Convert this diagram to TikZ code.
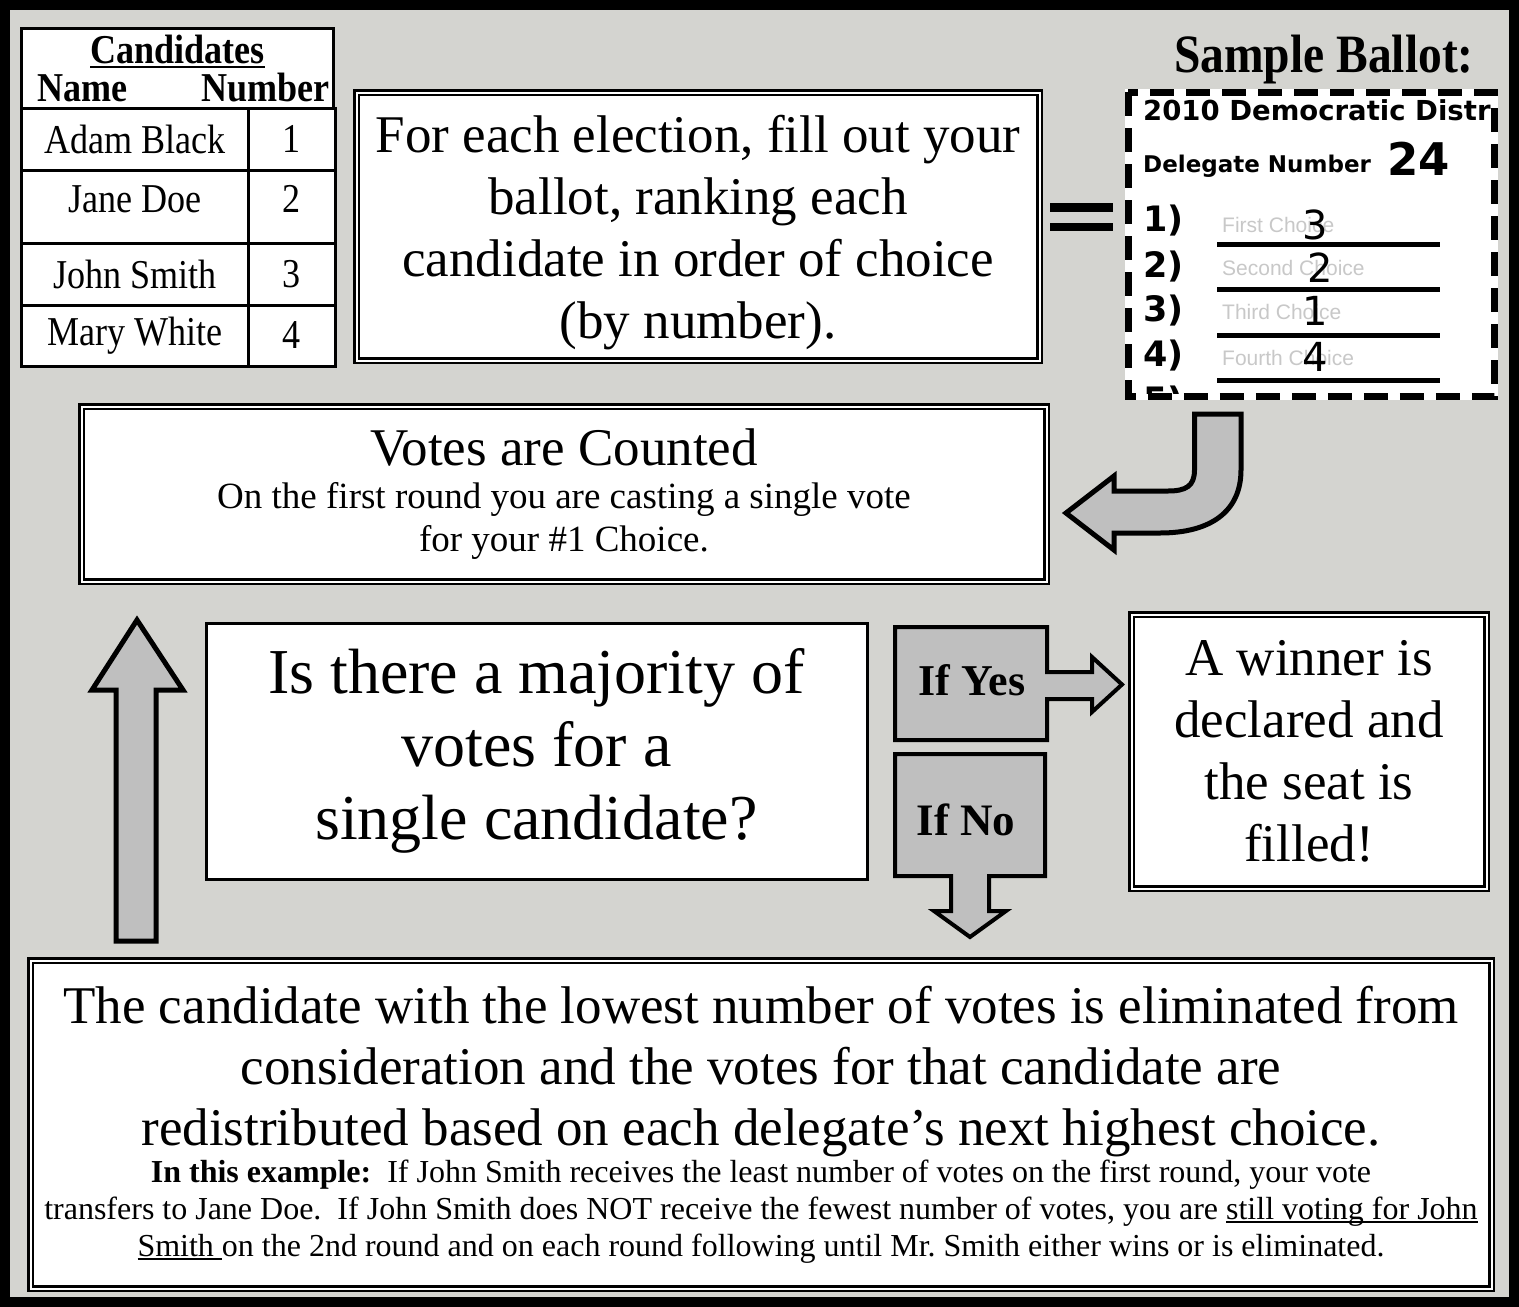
\documentclass[tikz,border=0pt]{standalone}
\usepackage{fontspec}
\setmainfont{Liberation Serif}
\newfontfamily\narrowserif{Liberation Serif}[FakeStretch=0.88]
\newfontfamily\formsans{DejaVu Sans}
\newfontfamily\choicesans{Liberation Sans}
\definecolor{panel}{RGB}{212,212,208}
\definecolor{arrowgray}{RGB}{191,191,191}
\definecolor{faint}{RGB}{200,200,200}
\newsavebox\ulbox
\newcommand{\heavyul}[1]{\leavevmode\sbox\ulbox{#1}\rlap{\rule[-0.12em]{\wd\ulbox}{0.055em}}\usebox\ulbox}

\begin{document}
\begin{tikzpicture}[x=1pt, y=-1pt,
    cell/.style={rectangle, draw, fill=white, line width=3pt, inner sep=0pt, font=\narrowserif\fontsize{41}{41}\selectfont},
    dbox/.style={rectangle, draw, fill=white, line width=2.5pt, double=white, double distance=2pt, inner sep=2pt, align=flush center},
    blockarrow/.style={draw, fill=arrowgray, line width=5pt, line join=miter},
    ballotnum/.style={anchor=base west, inner sep=0pt, font=\formsans\bfseries\fontsize{35}{35}\selectfont},
    choice/.style={anchor=base west, inner sep=0pt, text=faint, font=\choicesans\fontsize{21}{21}\selectfont},
    hand/.style={inner sep=0pt, font=\formsans\fontsize{40}{40}\selectfont},
    formline/.style={line width=5pt}]

    % Frame
    \useasboundingbox (0,0) rectangle (1519,1307);
    \fill[panel] (0,0) rectangle (1519,1307);
    \draw[line width=10pt] (5,5) rectangle (1514,1302);

    % Candidates table
    \node (head) [cell, minimum width=312pt, minimum height=80pt, text width=304pt, align=flush center, font=\narrowserif\bfseries\fontsize{41}{38}\selectfont] at (177.5,68.5) {\heavyul{Candidates}\\ \hspace*{12pt}Name\hfill Number};
    \node (n1) [cell, minimum width=227pt, minimum height=61.5pt] at (135,139.25) {Adam Black};
    \node (k1) [cell, minimum width=87pt, minimum height=61.5pt] at (292,139.25) {1};
    \node (n2) [cell, minimum width=227pt, minimum height=73.5pt, text depth=15pt] at (135,206.75) {Jane Doe};
    \node (k2) [cell, minimum width=87pt, minimum height=73.5pt, text depth=15pt] at (292,206.75) {2};
    \node (n3) [cell, minimum width=227pt, minimum height=61.5pt] at (135,274.25) {John Smith};
    \node (k3) [cell, minimum width=87pt, minimum height=61.5pt] at (292,274.25) {3};
    \node (n4) [cell, minimum width=227pt, minimum height=61pt] at (135,335.5) {Mary White};
    \node (k4) [cell, minimum width=87pt, minimum height=61pt] at (292,335.5) {4};

    % Instructions
    \node (instr) [dbox, minimum width=683pt, minimum height=268pt, text width=670pt, font=\fontsize{53}{62}\selectfont] at (698,226.5) {\rule{0pt}{50pt}For each election, fill out your\\ ballot, ranking each\\ candidate in order of choice\\ (by number).};

    % Equals sign
    \fill (1050,203) rectangle (1113,212);
    \fill (1050,223) rectangle (1113,231);

    % Sample ballot
    \node (sample) [anchor=base, inner sep=0pt, font=\narrowserif\bfseries\fontsize{54}{54}\selectfont] at (1324,72) {Sample Ballot:};
    \node (ballot) [rectangle, fill=white, minimum width=373pt, minimum height=311pt, inner sep=0pt] at (1311.5,244.5) {};
    \begin{scope}
        \clip ([shift={(7,7)}]ballot.north west) rectangle ([shift={(-7,-7)}]ballot.south east);
        \node (district) [anchor=base west, inner sep=0pt, font=\formsans\bfseries\fontsize{27.5}{27.5}\selectfont] at (1143,120) {2010 Democratic Distr};
        \node (delegate) [anchor=base west, inner sep=0pt, font=\formsans\bfseries\fontsize{23}{23}\selectfont] at (1143,172) {Delegate Number};
        \node (delno) [anchor=base west, inner sep=0pt, font=\formsans\bfseries\fontsize{45}{45}\selectfont] at (1387,175) {24};
        \node (r1) [ballotnum] at (1143,231) {1)};
        \node (r2) [ballotnum] at (1143,277) {2)};
        \node (r3) [ballotnum] at (1143,321) {3)};
        \node (r4) [ballotnum] at (1143,366) {4)};
        \node (r5) [ballotnum] at (1143,412) {5)};
        \node (c1) [choice] at (1222,232) {First Choice};
        \node (c2) [choice] at (1222,275) {Second Choice};
        \node (c3) [choice] at (1222,319) {Third Choice};
        \node (c4) [choice] at (1222,365) {Fourth Choice};
        \node (c5) [choice] at (1222,410) {Fifth Choice};
        \draw[formline] (1217,244) -- (1440,244);
        \draw[formline] (1217,289) -- (1440,289);
        \draw[formline] (1217,335) -- (1440,335);
        \draw[formline] (1217,380) -- (1440,380);
        \node (v1) [hand] at (1315,225) {3};
        \node (v2) [hand] at (1320,268) {2};
        \node (v3) [hand] at (1315,311) {1};
        \node (v4) [hand] at (1315,357) {4};
    \end{scope}
    \draw[line width=7pt, dash pattern=on 24pt off 12pt] ([shift={(3.5,3.5)}]ballot.north west) rectangle ([shift={(-3.5,-3.5)}]ballot.south east);

    % Counting
    \node (votes) [dbox, minimum width=965pt, minimum height=175pt, text width=940pt] at (564,494) {{\fontsize{53}{53}\selectfont Votes are Counted\par}{\fontsize{37}{43}\selectfont On the first round you are casting a single vote\\ for your \#1 Choice.\par}};
    \draw[blockarrow] (1194.5,414) -- (1194.5,470) .. controls (1194.5,486) and (1186,491) .. (1168,491) -- (1114,491) -- (1114,476) -- (1066,513) -- (1114,550) -- (1114,533) -- (1160,533) .. controls (1210,533) and (1241,512) .. (1241,470) -- (1241,414) -- cycle;

    % Majority question
    \node (question) [rectangle, draw, fill=white, line width=3pt, minimum width=661pt, minimum height=256pt, text width=650pt, align=flush center, font=\fontsize{64}{73}\selectfont] at (536.5,751) {Is there a majority of\\ votes for a\\ single candidate?};

    % Yes / No
    \draw[blockarrow, line width=4pt] (895,627) -- (1047,627) -- (1047,672) -- (1092,672) -- (1092,657) -- (1122,684.5) -- (1092,712) -- (1092,699) -- (1047,699) -- (1047,740) -- (895,740) -- cycle;
    \node (yes) [font=\bfseries\fontsize{44}{44}\selectfont] at (972,680) {If Yes};
    \draw[blockarrow, line width=4pt] (895,754) -- (1045,754) -- (1045,876) -- (989,876) -- (989,911) -- (1006,911) -- (970,937) -- (934,911) -- (951,911) -- (951,876) -- (895,876) -- cycle;
    \node (no) [font=\bfseries\fontsize{45}{45}\selectfont] at (966,820) {If No};

    % Winner
    \node (winner) [dbox, minimum width=355pt, minimum height=274pt, text width=340pt, font=\fontsize{53}{62}\selectfont] at (1309,751.5) {A winner is\\ declared and\\ the seat is\\ filled!};

    % Loop back arrow
    \draw[blockarrow] (116,941) -- (116,690) -- (92,690) -- (137,620) -- (183,690) -- (156,690) -- (156,941) -- cycle;

    % Elimination
    \node (elim) [dbox, minimum width=1461pt, minimum height=328pt, text width=1455pt, inner xsep=1pt] at (761,1124.5) {{\fontsize{53}{61}\selectfont The candidate with the lowest number of votes is eliminated from\\ consideration and the votes for that candidate are\\ redistributed based on each delegate’s next highest choice.\par}{\fontsize{32}{37}\selectfont\textbf{In this example:}\ \ If John Smith receives the least number of votes on the first round, your vote\\ transfers to Jane Doe.\ \ If John Smith does NOT receive the fewest number of votes, you are \heavyul{still voting for John}\\ \heavyul{Smith\ }on the 2nd round and on each round following until Mr.~Smith either wins or is eliminated.\par}};
\end{tikzpicture}
\end{document}
